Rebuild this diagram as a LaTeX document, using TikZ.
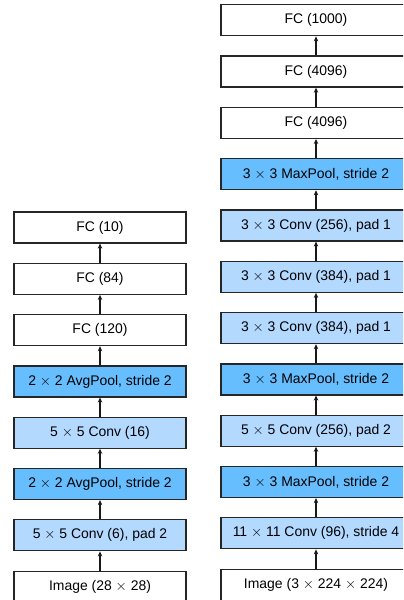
\documentclass[tikz,border=0pt]{standalone}
\usepackage{fontspec}
\setmainfont{Liberation Sans}
\usetikzlibrary{arrows.meta}
\definecolor{convc}{HTML}{B3D9FF}
\definecolor{poolc}{HTML}{66BEFF}
\newcommand{\tx}{$\times$}
\begin{document}
\begin{tikzpicture}[x=1bp,y=-1bp,
  layer/.style={draw=black!85,line width=1.2bp,minimum height=31bp,inner sep=0pt,font=\fontsize{14}{15}\selectfont},
  lbox/.style={layer,minimum width=172bp},
  rbox/.style={layer,minimum width=190bp},
  fc/.style={fill=white},
  conv/.style={fill=convc},
  pool/.style={fill=poolc},
  link/.style={-{Stealth[length=5bp,width=4.5bp]},line width=1.2bp,black!90}]
\useasboundingbox (0,0) rectangle (403,600);
\begin{scope}
\clip (0,0) rectangle (403,600);
% left column (LeNet)
\node[lbox,fc]   (l1) at (100,227.5) {FC (10)};
\node[lbox,fc]   (l2) at (100,278.8) {FC (84)};
\node[lbox,fc]   (l3) at (100,330.1) {FC (120)};
\node[lbox,pool] (l4) at (100,381.4) {2 \tx{} 2 AvgPool, stride 2};
\node[lbox,conv] (l5) at (100,432.7) {5 \tx{} 5 Conv (16)};
\node[lbox,pool] (l6) at (100,484.0) {2 \tx{} 2 AvgPool, stride 2};
\node[lbox,conv] (l7) at (100,535.3) {5 \tx{} 5 Conv (6), pad 2};
\node[lbox,fc]   (l8) at (100,586.6) {Image (28 \tx{} 28)};
% right column (AlexNet)
\node[rbox,fc]   (r1)  at (316,20.3)  {FC (1000)};
\node[rbox,fc]   (r2)  at (316,71.6)  {FC (4096)};
\node[rbox,fc]   (r3)  at (316,122.9) {FC (4096)};
\node[rbox,pool] (r4)  at (316,174.2) {3 \tx{} 3 MaxPool, stride 2};
\node[rbox,conv] (r5)  at (316,225.5) {3 \tx{} 3 Conv (256), pad 1};
\node[rbox,conv] (r6)  at (316,276.8) {3 \tx{} 3 Conv (384), pad 1};
\node[rbox,conv] (r7)  at (316,328.1) {3 \tx{} 3 Conv (384), pad 1};
\node[rbox,pool] (r8)  at (316,379.4) {3 \tx{} 3 MaxPool, stride 2};
\node[rbox,conv] (r9)  at (316,430.7) {5 \tx{} 5 Conv (256), pad 2};
\node[rbox,pool] (r10) at (316,482.0) {3 \tx{} 3 MaxPool, stride 2};
\node[rbox,conv] (r11) at (316,533.3) {11 \tx{} 11 Conv (96), stride 4};
\node[rbox,fc]   (r12) at (316,584.6) {Image (3 \tx{} 224 \tx{} 224)};
\end{scope}
\foreach \a/\b in {l8/l7,l7/l6,l6/l5,l5/l4,l4/l3,l3/l2,l2/l1}
  \draw[link] (\a.north) -- (\b.south);
\foreach \a/\b in {r12/r11,r11/r10,r10/r9,r9/r8,r8/r7,r7/r6,r6/r5,r5/r4,r4/r3,r3/r2,r2/r1}
  \draw[link] (\a.north) -- (\b.south);
\end{tikzpicture}
\end{document}
